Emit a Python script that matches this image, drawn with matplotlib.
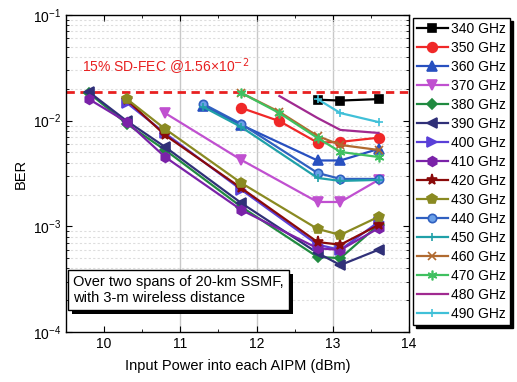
import matplotlib
matplotlib.use("Agg")
import matplotlib.pyplot as plt
import matplotlib.patheffects as pe
from matplotlib.ticker import LogLocator, MultipleLocator, NullFormatter

plt.rcParams['font.family'] = ['Liberation Sans', 'DejaVu Sans']

# ---- data ----
freqs = ["340 GHz", "350 GHz", "360 GHz", "370 GHz", "380 GHz", "390 GHz", "400 GHz",
         "410 GHz", "420 GHz", "430 GHz", "440 GHz", "450 GHz", "460 GHz", "470 GHz",
         "480 GHz", "490 GHz"]

x_340 = [12.8, 13.1, 13.6]
y_340 = [0.0158, 0.0155, 0.0160]
x_350 = [11.8, 12.3, 12.8, 13.1, 13.6]
y_350 = [0.0132, 0.0099, 0.0062, 0.0063, 0.0069]
x_360 = [11.3, 11.8, 12.8, 13.1, 13.6]
y_360 = [0.0138, 0.0091, 0.0042, 0.0042, 0.0054]
x_370 = [10.8, 11.8, 12.8, 13.1, 13.6]
y_370 = [0.0118, 0.00425, 0.0017, 0.0017, 0.00275]
x_380 = [9.8, 10.3, 10.8, 11.8, 12.8, 13.1, 13.6]
y_380 = [0.0183, 0.0093, 0.00528, 0.00153, 0.000513, 0.0005, 0.00103]
x_390 = [9.8, 10.3, 10.8, 11.8, 12.8, 13.1, 13.6]
y_390 = [0.0187, 0.0099, 0.00564, 0.00166, 0.00056, 0.00043, 0.0006]
x_400 = [10.3, 10.8, 11.8, 12.8, 13.1, 13.6]
y_400 = [0.0147, 0.0076, 0.00222, 0.00067, 0.0006, 0.0011]
x_410 = [9.8, 10.3, 10.8, 11.8, 12.8, 13.1, 13.6]
y_410 = [0.0160, 0.0097, 0.00453, 0.00143, 0.00062, 0.000598, 0.00096]
x_420 = [10.3, 10.8, 11.8, 12.8, 13.1, 13.6]
y_420 = [0.0157, 0.0073, 0.0023, 0.00071, 0.00067, 0.00103]
x_430 = [10.3, 10.8, 11.8, 12.8, 13.1, 13.6]
y_430 = [0.0160, 0.00835, 0.00257, 0.000945, 0.00083, 0.00123]
x_440 = [11.3, 11.8, 12.8, 13.1, 13.6]
y_440 = [0.0144, 0.0093, 0.0032, 0.00281, 0.00281]
x_450 = [11.3, 11.8, 12.8, 13.1, 13.6]
y_450 = [0.0135, 0.0087, 0.00287, 0.00269, 0.00275]
x_460 = [11.8, 12.3, 12.8, 13.1, 13.6]
y_460 = [0.0183, 0.0121, 0.00716, 0.00589, 0.00528]
x_470 = [11.8, 12.3, 12.8, 13.1, 13.6]
y_470 = [0.0183, 0.0118, 0.00686, 0.00506, 0.00453]
x_480 = [12.3, 12.8, 13.1, 13.6]
y_480 = [0.0171, 0.0106, 0.00817, 0.00765]
x_490 = [12.8, 13.1, 13.6]
y_490 = [0.0160, 0.0118, 0.0097]

fec_threshold = 0.0187
fec_label = "15% SD-FEC @1.56×10$^{-2}$"
note_text = "Over two spans of 20-km SSMF,\nwith 3-m wireless distance"

series = [
    (x_340, y_340, dict(color='#000000', marker='s', ms=6)),
    (x_350, y_350, dict(color='#f02828', marker='o', ms=7)),
    (x_360, y_360, dict(color='#2850c0', marker='^', ms=7)),
    (x_370, y_370, dict(color='#c050d0', marker='v', ms=7)),
    (x_380, y_380, dict(color='#208a40', marker='D', ms=5)),
    (x_390, y_390, dict(color='#303078', marker='<', ms=7)),
    (x_400, y_400, dict(color='#5a40d8', marker='>', ms=7)),
    (x_410, y_410, dict(color='#7a22a8', marker='h', ms=7)),
    (x_420, y_420, dict(color='#8a0a0a', marker='*', ms=8)),
    (x_430, y_430, dict(color='#8a8a22', marker='p', ms=7)),
    (x_440, y_440, dict(color='#3060c0', marker='o', ms=6, mfc='#6aa0e8')),
    (x_450, y_450, dict(color='#20a0a8', marker='+', ms=6)),
    (x_460, y_460, dict(color='#b06a30', marker='x', ms=6)),
    (x_470, y_470, dict(color='#40c060', marker=(6, 2, 0), ms=7)),
    (x_480, y_480, dict(color='#a02a90', marker='None')),
    (x_490, y_490, dict(color='#40c0d8', marker='+', ms=6)),
]

fig = plt.figure(figsize=(5.17, 3.82), dpi=100)
ax = fig.add_axes([66/517, 1-332/382, (409-66)/517, (332-15)/382])
ax.set_yscale('log')
ax.set_xlim(9.5, 14)
ax.set_ylim(1e-4, 1e-1)

# grid
for xv in [11, 12, 13]:
    ax.axvline(xv, color='#c8c8c8', lw=1.0, zorder=0)
ax.yaxis.grid(True, which='minor', color='#dddddd', ls=(0, (2, 2)), lw=0.8, zorder=0)

for (xs, ys, kw), name in zip(series, freqs):
    ax.plot(xs, ys, lw=1.6, label=name, mew=1.2, **kw)

ax.axhline(fec_threshold, color='#e82020', ls=(0, (3, 2)), lw=2.0, zorder=1)
ax.text(9.71, 0.0322, fec_label, color='#e82020', fontsize=10, va='center', ha='left')

ax.set_xticks([10, 11, 12, 13, 14])
ax.set_xticklabels(['10', '11', '12', '13', '14'])
ax.xaxis.set_minor_locator(MultipleLocator(0.5))
ax.yaxis.set_major_locator(LogLocator(base=10, numticks=10))
ax.yaxis.set_minor_locator(LogLocator(base=10, subs=range(2, 10), numticks=10))
ax.yaxis.set_minor_formatter(NullFormatter())
ax.tick_params(which='both', direction='in', top=True, right=True, labelsize=10)
ax.tick_params(which='major', length=4)
ax.tick_params(which='minor', length=2)
for s in ax.spines.values():
    s.set_linewidth(1.0)

ax.set_xlabel("Input Power into each AIPM (dBm)", fontsize=10.5, labelpad=6)
ax.set_ylabel("BER", fontsize=10.5, labelpad=4)

# note box with shadow
note = ax.text(9.59, 0.00025, note_text, fontsize=10.5, va='center', ha='left',
               color='black', linespacing=1.1, zorder=5,
               bbox=dict(boxstyle='square,pad=0.35', fc='white', ec='black', lw=1.0))
note.get_bbox_patch().set_path_effects([
    pe.SimplePatchShadow(offset=(3, -3), shadow_rgbFace='black', alpha=1.0),
    pe.Normal()])

leg = fig.legend(loc='upper left', bbox_to_anchor=(413/517, 1-18/382), fontsize=10,
                 frameon=True, fancybox=False, edgecolor='black', framealpha=1,
                 handlelength=2.2, handletextpad=0.25, labelspacing=0.36,
                 borderpad=0.3, borderaxespad=0.0,
                 shadow={'color': 'black', 'alpha': 1.0})
leg.get_frame().set_linewidth(1.0)

fig.savefig('out.png', dpi=100)
